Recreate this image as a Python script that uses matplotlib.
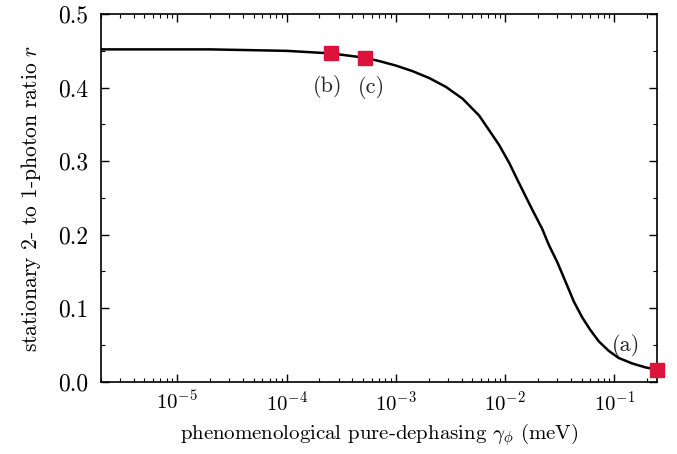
import matplotlib
matplotlib.use("Agg")
import matplotlib.pyplot as plt
import numpy as np
from matplotlib.ticker import LogLocator, MultipleLocator, NullFormatter

plt.rcParams['font.family'] = 'serif'
plt.rcParams['font.serif'] = ['cmr10']
plt.rcParams['mathtext.fontset'] = 'cm'
plt.rcParams['axes.formatter.use_mathtext'] = True

# curve
gamma = [2e-6, 2e-5, 1e-4, 2.57e-4, 5.27e-4, 7.08e-4, 1.0e-3, 1.42e-3, 2.02e-3,
         2.87e-3, 4.07e-3, 5.78e-3, 8.8e-3, 1.09e-2, 1.3e-2, 1.77e-2, 2.18e-2,
         2.51e-2, 2.99e-2, 3.57e-2, 4.25e-2, 5.07e-2, 6.04e-2, 7.19e-2, 8.87e-2,
         0.109, 0.145, 0.192, 0.245]
ratio = [0.452, 0.452, 0.450, 0.4465, 0.4405, 0.436, 0.430, 0.4224, 0.413,
         0.401, 0.385, 0.362, 0.322, 0.2975, 0.274, 0.234, 0.208,
         0.186, 0.163, 0.136, 0.109, 0.0875, 0.0700, 0.0550, 0.0420,
         0.0325, 0.0250, 0.0196, 0.0166]

# marked points
pt_gamma = [0.245, 2.57e-4, 5.27e-4]
pt_ratio = [0.0166, 0.4465, 0.4405]
pt_labels = ['(a)', '(b)', '(c)']
pt_offsets = [(-22, 17), (-3, -24), (4, -21)]

fig = plt.figure(figsize=(6.77, 4.54), dpi=100)
ax = fig.add_axes([0.149, 0.159, 0.8215, 0.810])

ax.plot(gamma, ratio, color='black', lw=1.8, solid_joinstyle='round')
ax.plot(pt_gamma, pt_ratio, 's', color='#dc143c', ms=9.5, clip_on=False, zorder=5)
for g, r, lab, off in zip(pt_gamma, pt_ratio, pt_labels, pt_offsets):
    ax.annotate(lab, (g, r), xytext=off, textcoords='offset points',
                ha='center', va='center', fontsize=16, color='#222222')

ax.set_xscale('log')
ax.set_xlim(2e-6, 0.245)
ax.set_ylim(0, 0.5)
ax.xaxis.set_major_locator(LogLocator(base=10, numticks=20))
ax.xaxis.set_minor_locator(LogLocator(base=10, subs=np.arange(2, 10), numticks=20))
ax.xaxis.set_minor_formatter(NullFormatter())
ax.yaxis.set_major_locator(MultipleLocator(0.1))
ax.yaxis.set_minor_locator(MultipleLocator(0.05))
ax.yaxis.set_major_formatter(plt.FormatStrFormatter('%.1f'))

ax.tick_params(which='both', direction='in', top=True, right=True)
ax.tick_params(axis='x', which='major', labelsize=15, pad=6)
ax.tick_params(axis='y', which='major', labelsize=17, pad=9)
ax.tick_params(which='major', length=6, width=1)
ax.tick_params(which='minor', length=3, width=0.8)
for s in ax.spines.values():
    s.set_linewidth(1.2)

ax.set_xlabel(r'phenomenological pure-dephasing $\gamma_\phi$ (meV)', fontsize=15, labelpad=5)
ax.set_ylabel(r'stationary 2- to 1-photon ratio $r$', fontsize=15.5, labelpad=11)

fig.savefig('out.png', dpi=100)
